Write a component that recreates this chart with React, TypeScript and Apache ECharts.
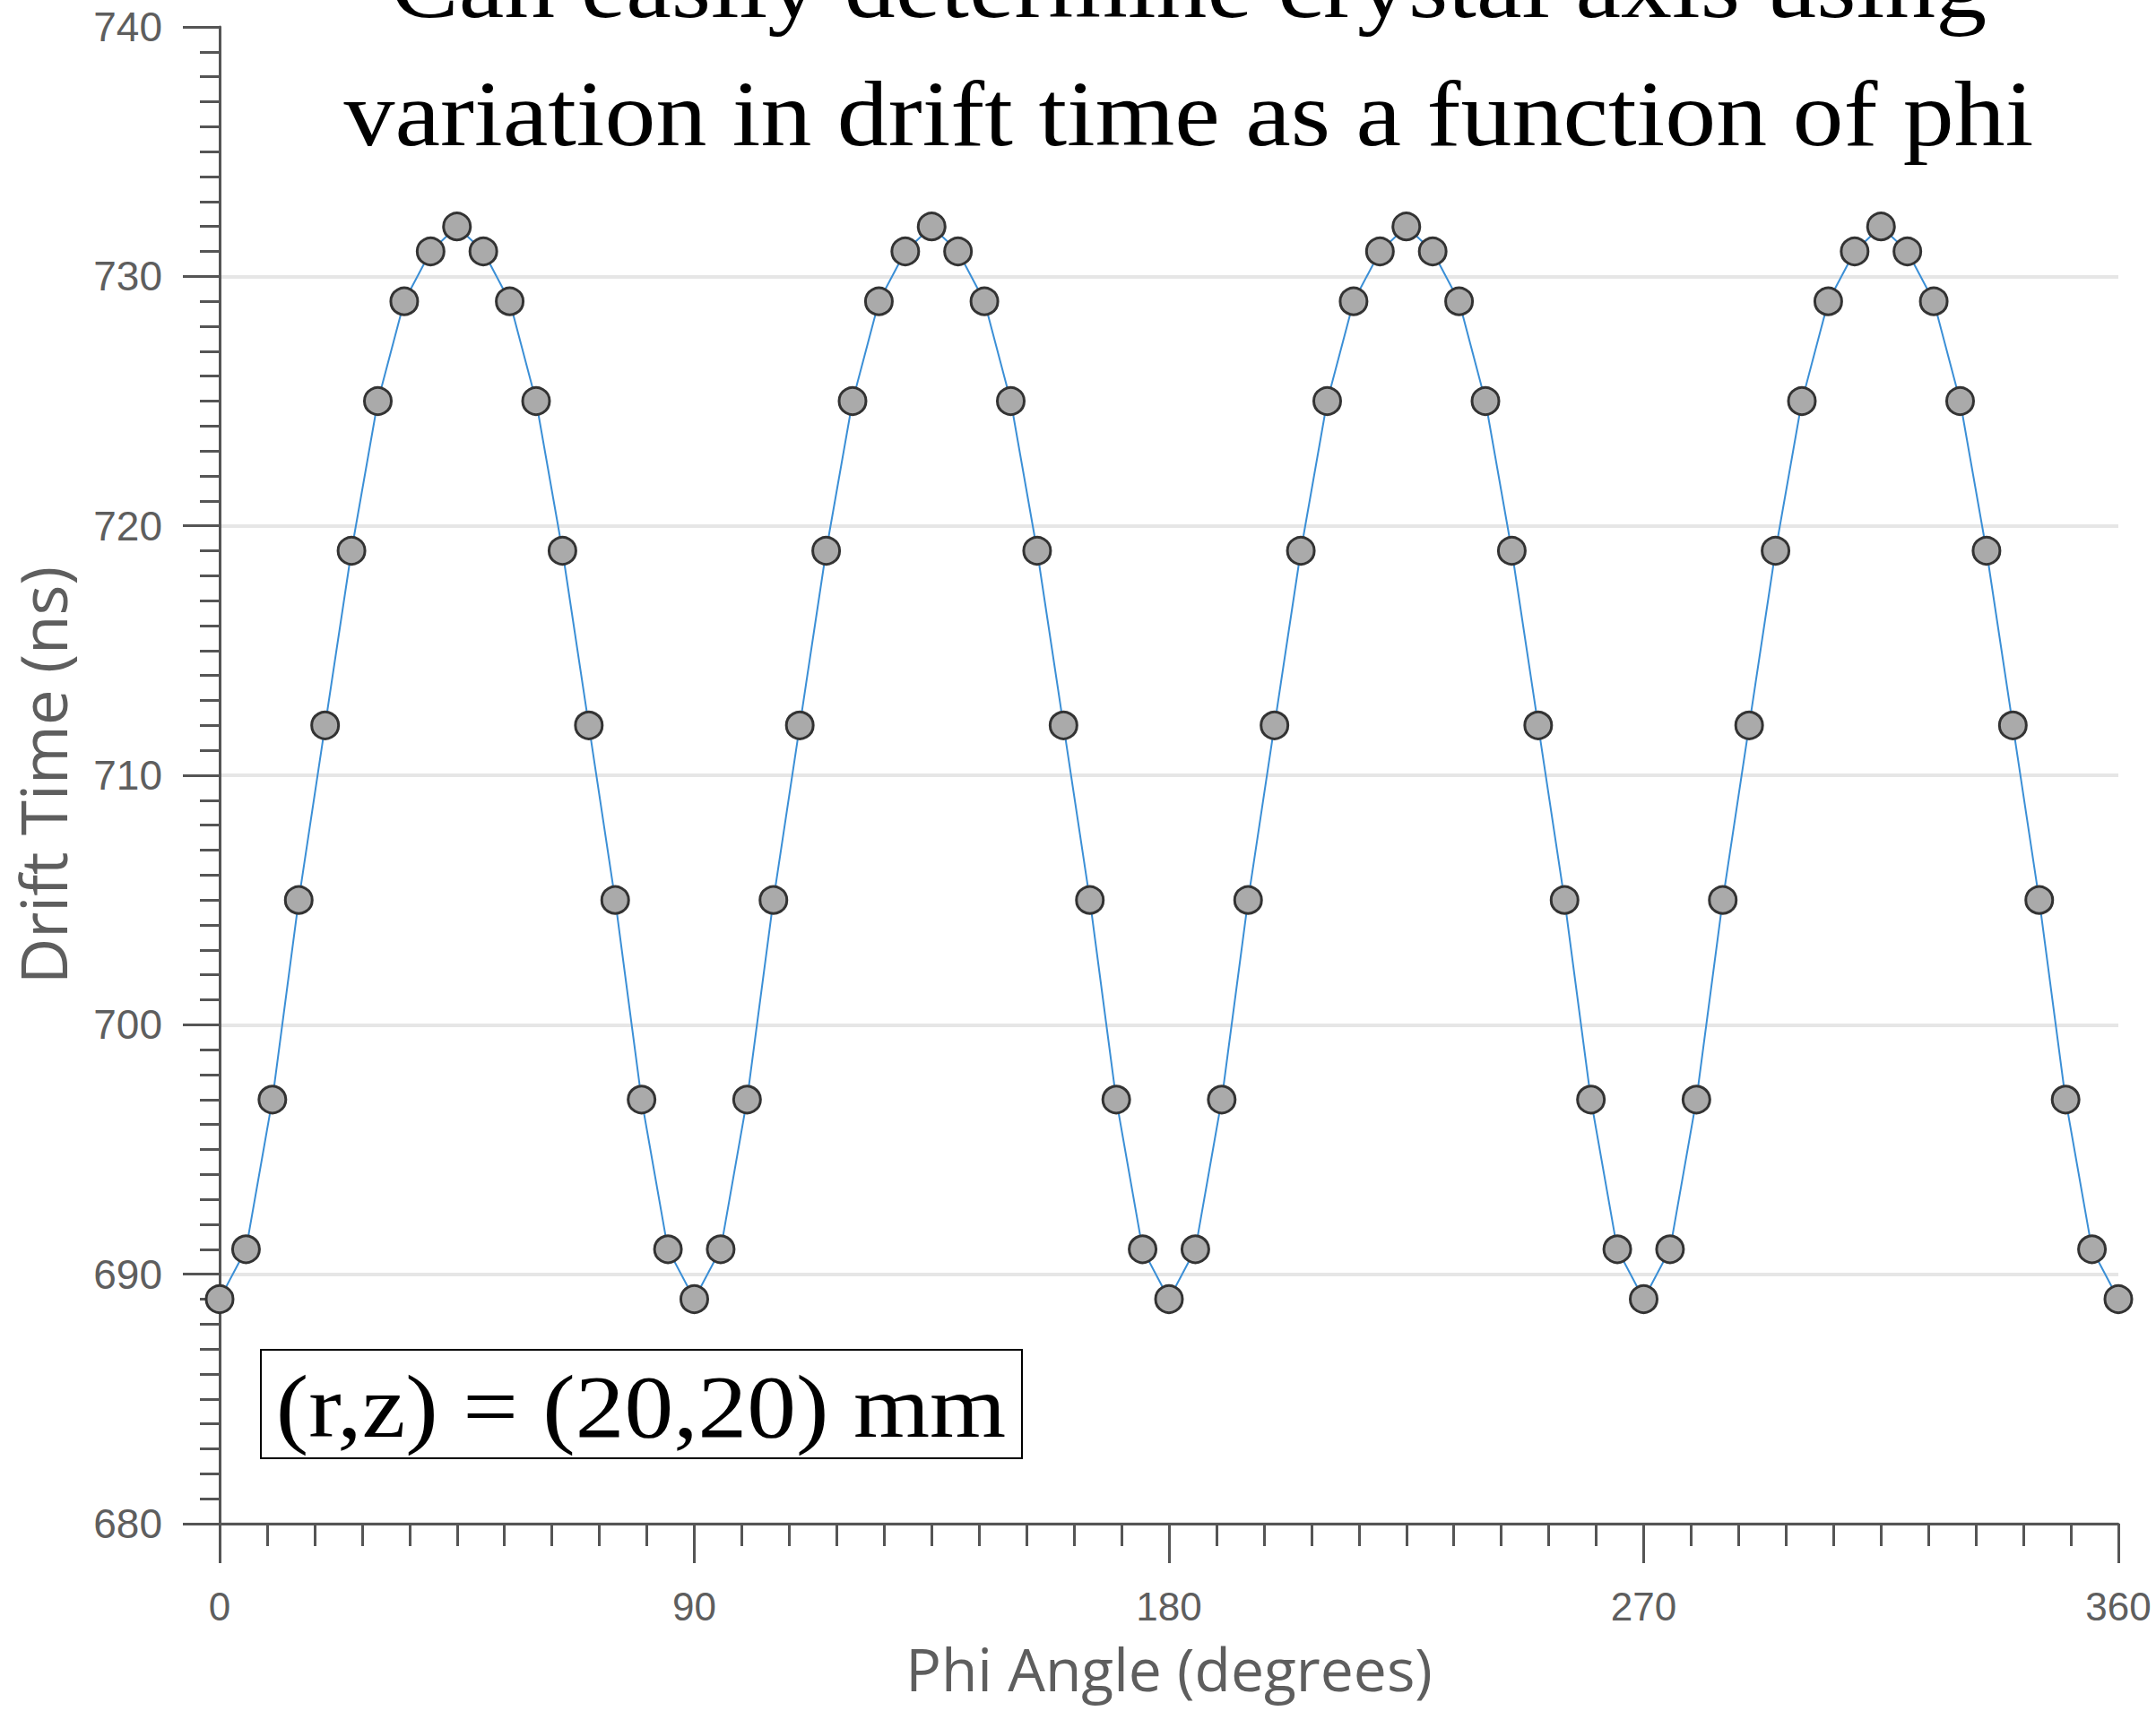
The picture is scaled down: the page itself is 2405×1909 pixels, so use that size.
import React, { useEffect, useRef } from "react";
import * as echarts from "echarts";

const phiAngles = [
  0, 5, 10, 15, 20, 25, 30, 35, 40, 45, 50, 55, 60, 65, 70, 75, 80, 85,
  90, 95, 100, 105, 110, 115, 120, 125, 130, 135, 140, 145, 150, 155, 160, 165, 170, 175,
  180, 185, 190, 195, 200, 205, 210, 215, 220, 225, 230, 235, 240, 245, 250, 255, 260, 265,
  270, 275, 280, 285, 290, 295, 300, 305, 310, 315, 320, 325, 330, 335, 340, 345, 350, 355,
  360,
];

const driftTimes = [
  689, 691, 697, 705, 712, 719, 725, 729, 731, 732, 731, 729, 725, 719, 712, 705, 697, 691,
  689, 691, 697, 705, 712, 719, 725, 729, 731, 732, 731, 729, 725, 719, 712, 705, 697, 691,
  689, 691, 697, 705, 712, 719, 725, 729, 731, 732, 731, 729, 725, 719, 712, 705, 697, 691,
  689, 691, 697, 705, 712, 719, 725, 729, 731, 732, 731, 729, 725, 719, 712, 705, 697, 691,
  689,
];

const titleLines = [
  "Can easily determine crystal axis using",
  "variation in drift time as a function of phi",
];
const annotationText = "(r,z) = (20,20) mm";

export default function App() {
  const ref = useRef<HTMLDivElement>(null);
  useEffect(() => {
    if (!ref.current) return;
    const chart = echarts.init(ref.current, null, { renderer: "svg" });
    const axisColor = "#555555";
    const labelColor = "#5e5e5e";
    chart.setOption({
      animation: false,
      backgroundColor: "#ffffff",
      grid: { left: 245, right: 42, top: 30, bottom: 209, containLabel: false },
      xAxis: {
        type: "value",
        min: 0,
        max: 360,
        interval: 90,
        name: "Phi Angle (degrees)",
        nameLocation: "middle",
        nameGap: 128,
        nameTextStyle: { fontFamily: "Open Sans", fontSize: 66, lineHeight: 66, color: labelColor },
        axisLine: { show: true, onZero: false, lineStyle: { color: axisColor, width: 3 } },
        axisTick: { show: true, length: 44, lineStyle: { color: axisColor, width: 3 } },
        minorTick: { show: true, splitNumber: 10, length: 25, lineStyle: { color: axisColor, width: 3 } },
        axisLabel: { margin: 70, fontFamily: "Liberation Sans", fontSize: 44, lineHeight: 44, color: labelColor },
        splitLine: { show: false },
      },
      yAxis: {
        type: "value",
        min: 680,
        max: 740,
        interval: 10,
        name: "Drift Time (ns)",
        nameLocation: "middle",
        nameGap: 162,
        nameTextStyle: { fontFamily: "Open Sans", fontSize: 71, color: labelColor },
        axisLine: { show: true, lineStyle: { color: axisColor, width: 3 } },
        axisTick: { show: true, length: 41, lineStyle: { color: axisColor, width: 3 } },
        minorTick: { show: true, splitNumber: 10, length: 22, lineStyle: { color: axisColor, width: 3 } },
        axisLabel: { margin: 64, fontFamily: "Liberation Sans", fontSize: 46, color: labelColor },
        splitLine: { show: true, showMaxLine: false, lineStyle: { color: "#e6e6e6", width: 4 } },
      },
      series: [
        {
          type: "line",
          data: phiAngles.map((p, i) => [p, driftTimes[i]]),
          symbol: "circle",
          symbolSize: 30,
          lineStyle: { color: "#3b8fd6", width: 2 },
          itemStyle: { color: "#aaaaaa", borderColor: "#333333", borderWidth: 3 },
          z: 3,
        },
      ],
      graphic: [
        {
          type: "text",
          x: 1326,
          y: -16,
          scaleX: 1.095,
          style: {
            text: titleLines[0],
            fontFamily: "Liberation Serif",
            fontSize: 104,
            fill: "#000",
            align: "center",
            verticalAlign: "middle",
          },
        },
        {
          type: "text",
          x: 1326,
          y: 127,
          scaleX: 1.095,
          style: {
            text: titleLines[1],
            fontFamily: "Liberation Serif",
            fontSize: 104,
            fill: "#000",
            align: "center",
            verticalAlign: "middle",
          },
        },
        {
          type: "rect",
          shape: { x: 291, y: 1506, width: 849, height: 121 },
          style: { fill: "#ffffff", stroke: "#000000", lineWidth: 2 },
          z: 10,
        },
        {
          type: "text",
          x: 715,
          y: 1570,
          scaleX: 1.095,
          z: 11,
          style: {
            text: annotationText,
            fontFamily: "Liberation Serif",
            fontSize: 100,
            fill: "#000",
            align: "center",
            verticalAlign: "middle",
          },
        },
      ],
    });
    return () => chart.dispose();
  }, []);
  return (
    <div
      ref={ref}
      style={{ position: "absolute", left: 0, top: 0, width: 2405, height: 1909 }}
    />
  );
}
